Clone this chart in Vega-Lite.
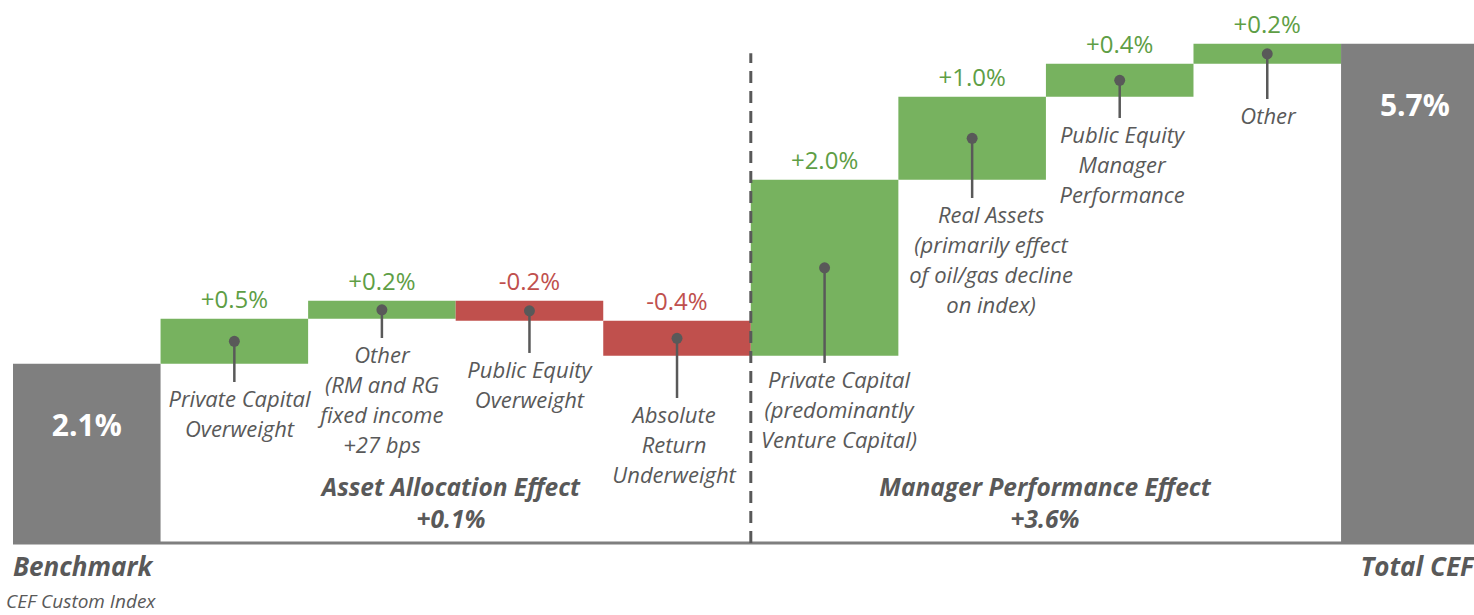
{
  "$schema": "https://vega.github.io/schema/vega-lite/v6.json",
  "width": 1474,
  "height": 615,
  "autosize": {"type": "none"},
  "padding": 0,
  "background": "white",
  "config": {"view": {"stroke": null}, "font": "Open Sans"},
  "datasets": {
    "bars": [
      {"name": "Benchmark", "step": 0, "start": 0, "end": 2.06, "kind": "total", "vlabel": "2.1%"},
      {"name": "Private Capital Overweight", "step": 1, "start": 2.06, "end": 2.577, "kind": "up", "vlabel": "+0.5%", "label": "Private Capital\nOverweight", "labelX": 1.535, "labelY": 1.563},
      {"name": "Other (AA)", "step": 2, "start": 2.577, "end": 2.784, "kind": "up", "vlabel": "+0.2%", "label": "Other\n(RM and RG\nfixed income\n+27 bps", "labelX": 2.5, "labelY": 2.069},
      {"name": "Public Equity Overweight", "step": 3, "start": 2.784, "end": 2.554, "kind": "down", "vlabel": "-0.2%", "label": "Public Equity\nOverweight", "labelX": 3.5, "labelY": 1.897},
      {"name": "Absolute Return Underweight", "step": 4, "start": 2.554, "end": 2.152, "kind": "down", "vlabel": "-0.4%", "label": "Absolute\nReturn\nUnderweight", "labelX": 4.48, "labelY": 1.379},
      {"name": "Private Capital (MP)", "step": 5, "start": 2.152, "end": 4.175, "kind": "up", "vlabel": "+2.0%", "label": "Private Capital\n(predominantly\nVenture Capital)", "labelX": 5.598, "labelY": 1.782},
      {"name": "Real Assets", "step": 6, "start": 4.175, "end": 5.129, "kind": "up", "vlabel": "+1.0%", "label": "Real Assets\n(primarily effect\nof oil/gas decline\non index)", "labelX": 6.628, "labelY": 3.678},
      {"name": "Public Equity Manager Performance", "step": 7, "start": 5.129, "end": 5.508, "kind": "up", "vlabel": "+0.4%", "label": "Public Equity\nManager\nPerformance", "labelX": 7.516, "labelY": 4.598},
      {"name": "Other (MP)", "step": 8, "start": 5.508, "end": 5.738, "kind": "up", "vlabel": "+0.2%", "label": "Other", "labelX": 8.505, "labelY": 4.816},
      {"name": "Total CEF", "step": 9, "start": 0, "end": 5.738, "kind": "total", "vlabel": "5.7%"}
    ],
    "sections": [
      {"text": "Asset Allocation Effect\n+0.1%", "x": 2.968, "y": 0.535},
      {"text": "Manager Performance Effect\n+3.6%", "x": 6.994, "y": 0.54}
    ]
  },
  "layer": [
    {
      "data": {"name": "bars"},
      "transform": [{"calculate": "datum.step + 1", "as": "stepEnd"}],
      "mark": {"type": "rect"},
      "encoding": {
        "x": {"field": "step", "type": "quantitative", "scale": {"domain": [-0.0881, 9.901], "nice": false, "zero": false}, "axis": null},
        "x2": {"field": "stepEnd"},
        "y": {"field": "start", "type": "quantitative", "scale": {"domain": [-0.8276, 6.2414], "nice": false, "zero": false}, "axis": null},
        "y2": {"field": "end"},
        "color": {"field": "kind", "type": "nominal", "scale": {"domain": ["total", "up", "down"], "range": ["#7f7f7f", "#77b25f", "#c0504d"]}, "legend": null}
      }
    },
    {
      "data": {"values": [{"a": 0, "b": 9.901, "y": 0}]},
      "mark": {"type": "rule", "stroke": "#7f7f7f", "strokeWidth": 3},
      "encoding": {
        "x": {"field": "a", "type": "quantitative", "scale": {"domain": [-0.0881, 9.901], "nice": false, "zero": false}, "axis": null},
        "x2": {"field": "b"},
        "y": {"field": "y", "type": "quantitative", "scale": {"domain": [-0.8276, 6.2414], "nice": false, "zero": false}, "axis": null}
      }
    },
    {
      "data": {"values": [{"x": 5, "y0": 0, "y1": 5.63}]},
      "mark": {"type": "rule", "stroke": "#595959", "strokeWidth": 3, "strokeDash": [12, 8]},
      "encoding": {
        "x": {"field": "x", "type": "quantitative", "scale": {"domain": [-0.0881, 9.901], "nice": false, "zero": false}, "axis": null},
        "y": {"field": "y0", "type": "quantitative", "scale": {"domain": [-0.8276, 6.2414], "nice": false, "zero": false}, "axis": null},
        "y2": {"field": "y1"}
      }
    },
    {
      "data": {"name": "bars"},
      "transform": [
        {"filter": "datum.label != null"},
        {"calculate": "datum.step + 0.5", "as": "center"},
        {"calculate": "(datum.start + datum.end) / 2", "as": "mid"}
      ],
      "mark": {"type": "rule", "stroke": "#595959", "strokeWidth": 2.5, "y2Offset": -25},
      "encoding": {
        "x": {"field": "center", "type": "quantitative", "scale": {"domain": [-0.0881, 9.901], "nice": false, "zero": false}, "axis": null},
        "y": {"field": "mid", "type": "quantitative", "scale": {"domain": [-0.8276, 6.2414], "nice": false, "zero": false}, "axis": null},
        "y2": {"field": "labelY"}
      }
    },
    {
      "data": {"name": "bars"},
      "transform": [
        {"filter": "datum.label != null"},
        {"calculate": "datum.step + 0.5", "as": "center"},
        {"calculate": "(datum.start + datum.end) / 2", "as": "mid"}
      ],
      "mark": {"type": "point", "filled": true, "fill": "#595959", "stroke": null, "size": 120, "opacity": 1},
      "encoding": {
        "x": {"field": "center", "type": "quantitative", "scale": {"domain": [-0.0881, 9.901], "nice": false, "zero": false}, "axis": null},
        "y": {"field": "mid", "type": "quantitative", "scale": {"domain": [-0.8276, 6.2414], "nice": false, "zero": false}, "axis": null}
      }
    },
    {
      "data": {"name": "bars"},
      "transform": [{"filter": "datum.label != null"}],
      "mark": {"type": "text", "font": "Open Sans", "fontStyle": "italic", "fontSize": 22, "fill": "#595959", "lineBreak": "\n", "lineHeight": 30, "align": "center", "baseline": "alphabetic"},
      "encoding": {
        "x": {"field": "labelX", "type": "quantitative", "scale": {"domain": [-0.0881, 9.901], "nice": false, "zero": false}, "axis": null},
        "y": {"field": "labelY", "type": "quantitative", "scale": {"domain": [-0.8276, 6.2414], "nice": false, "zero": false}, "axis": null},
        "text": {"field": "label"}
      }
    },
    {
      "data": {"name": "bars"},
      "transform": [
        {"filter": "datum.kind != 'total'"},
        {"calculate": "datum.step + 0.5", "as": "center"},
        {"calculate": "max(datum.start, datum.end)", "as": "top"}
      ],
      "mark": {"type": "text", "font": "Open Sans", "fontSize": 24, "align": "center", "baseline": "alphabetic", "dy": -11},
      "encoding": {
        "x": {"field": "center", "type": "quantitative", "scale": {"domain": [-0.0881, 9.901], "nice": false, "zero": false}, "axis": null},
        "y": {"field": "top", "type": "quantitative", "scale": {"domain": [-0.8276, 6.2414], "nice": false, "zero": false}, "axis": null},
        "text": {"field": "vlabel"},
        "fill": {"field": "kind", "type": "nominal", "scale": {"domain": ["up", "down"], "range": ["#5e9e45", "#c0504d"]}, "legend": null}
      }
    },
    {
      "data": {"name": "bars"},
      "transform": [
        {"filter": "datum.kind == 'total'"},
        {"calculate": "datum.step + 0.5", "as": "center"}
      ],
      "mark": {"type": "text", "font": "Open Sans", "fontWeight": "bold", "fontSize": 30, "fill": "white", "align": "center", "baseline": "alphabetic", "dy": 72},
      "encoding": {
        "x": {"field": "center", "type": "quantitative", "scale": {"domain": [-0.0881, 9.901], "nice": false, "zero": false}, "axis": null},
        "y": {"field": "end", "type": "quantitative", "scale": {"domain": [-0.8276, 6.2414], "nice": false, "zero": false}, "axis": null},
        "text": {"field": "vlabel"}
      }
    },
    {
      "data": {"name": "sections"},
      "mark": {"type": "text", "font": "Open Sans", "fontStyle": "italic", "fontWeight": "bold", "fontSize": 24.5, "fill": "#595959", "lineBreak": "\n", "lineHeight": 32, "align": "center", "baseline": "alphabetic"},
      "encoding": {
        "x": {"field": "x", "type": "quantitative", "scale": {"domain": [-0.0881, 9.901], "nice": false, "zero": false}, "axis": null},
        "y": {"field": "y", "type": "quantitative", "scale": {"domain": [-0.8276, 6.2414], "nice": false, "zero": false}, "axis": null},
        "text": {"field": "text"}
      }
    },
    {
      "data": {"values": [{"text": "Benchmark", "x": 0, "y": -0.379}]},
      "mark": {"type": "text", "font": "Open Sans", "fontStyle": "italic", "fontWeight": "bold", "fontSize": 26, "fill": "#595959", "align": "left", "baseline": "alphabetic"},
      "encoding": {
        "x": {"field": "x", "type": "quantitative", "scale": {"domain": [-0.0881, 9.901], "nice": false, "zero": false}, "axis": null},
        "y": {"field": "y", "type": "quantitative", "scale": {"domain": [-0.8276, 6.2414], "nice": false, "zero": false}, "axis": null},
        "text": {"field": "text"}
      }
    },
    {
      "data": {"values": [{"text": "Total CEF", "x": 9.9, "y": -0.379}]},
      "mark": {"type": "text", "font": "Open Sans", "fontStyle": "italic", "fontWeight": "bold", "fontSize": 26, "fill": "#595959", "align": "right", "baseline": "alphabetic"},
      "encoding": {
        "x": {"field": "x", "type": "quantitative", "scale": {"domain": [-0.0881, 9.901], "nice": false, "zero": false}, "axis": null},
        "y": {"field": "y", "type": "quantitative", "scale": {"domain": [-0.8276, 6.2414], "nice": false, "zero": false}, "axis": null},
        "text": {"field": "text"}
      }
    },
    {
      "data": {"values": [{"text": "CEF Custom Index", "x": -0.047, "y": -0.752}]},
      "mark": {"type": "text", "font": "Open Sans", "fontStyle": "italic", "fontSize": 19, "fill": "#595959", "align": "left", "baseline": "alphabetic"},
      "encoding": {
        "x": {"field": "x", "type": "quantitative", "scale": {"domain": [-0.0881, 9.901], "nice": false, "zero": false}, "axis": null},
        "y": {"field": "y", "type": "quantitative", "scale": {"domain": [-0.8276, 6.2414], "nice": false, "zero": false}, "axis": null},
        "text": {"field": "text"}
      }
    }
  ],
  "resolve": {"scale": {"color": "independent", "fill": "independent"}}
}
